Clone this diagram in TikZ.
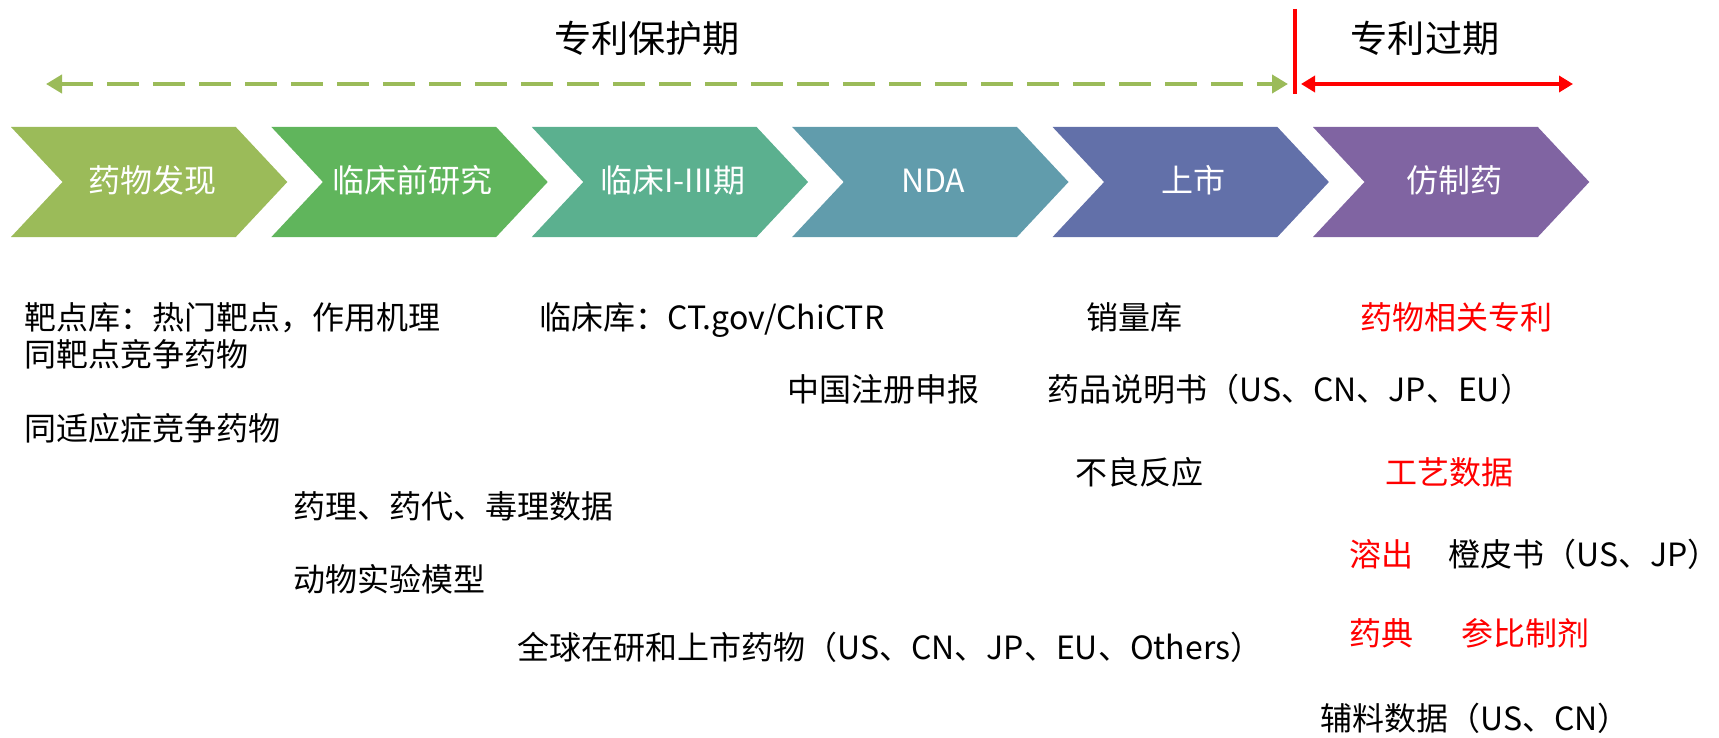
\documentclass[tikz,border=0pt]{standalone}
\usepackage{fontspec}
\setmainfont{Noto Sans CJK SC}
\usetikzlibrary{arrows.meta}
\definecolor{cA}{HTML}{9BBB59}
\definecolor{cB}{HTML}{60B55C}
\definecolor{cC}{HTML}{5BB08F}
\definecolor{cD}{HTML}{619CAC}
\definecolor{cE}{HTML}{6270A9}
\definecolor{cF}{HTML}{8064A2}
\definecolor{myred}{HTML}{FF0000}
\begin{document}
\begin{tikzpicture}[x=0.5pt,y=-0.5pt,
  txt/.style={anchor=west,inner sep=0pt,text height=1.0em,text depth=0em,font=\fontsize{16pt}{18pt}\selectfont},
  redtxt/.style={txt,text=myred},
  lab/.style={inner sep=0pt,text height=1.0em,text depth=0em,text=white,font=\fontsize{16pt}{18pt}\selectfont},
  ttl/.style={inner sep=0pt,text height=1.0em,text depth=0em,font=\fontsize{18.6pt}{20pt}\selectfont},
  greenarrow/.style={draw=cA,line width=2pt,dash pattern=on 16pt off 7pt,{Triangle[length=8pt,width=9pt]}-{Triangle[length=8pt,width=9pt]}},
  redarrow/.style={draw=myred,line width=1.8pt,{Triangle[length=7pt,width=8pt]}-{Triangle[length=7pt,width=8pt]}},
  redline/.style={draw=myred,line width=2pt}]
\useasboundingbox (0,0) rectangle (1719,738);

% chevrons
\foreach \i/\c/\t in {0/cA/药物发现,1/cB/临床前研究,2/cC/临床I-III期,3/cD/NDA,4/cE/上市,5/cF/仿制药}{
  \pgfmathsetmacro\L{11+\i*260.4}
  \fill[\c] (\L,127) -- ++(224.8,0) -- ++(51.5,55) -- ++(-51.5,55) -- ++(-224.8,0) -- ++(51.5,-55) -- cycle;
  \node[lab] (s\i) at (\L+141,182) {\t};
}

% titles
\node[ttl] (title1) at (647,43) {专利保护期};
\node[ttl] (title2) at (1425,43) {专利过期};

% top arrows
\coordinate (gL) at (46,84);
\coordinate (gR) at (1288,84);
\coordinate (rT) at (1295,9);
\coordinate (rB) at (1295,94);
\coordinate (aL) at (1301,84);
\coordinate (aR) at (1573,84);
\draw[greenarrow] (gL) -- (gR);
\draw[redline] (rT) -- (rB);
\draw[redarrow] (aL) -- (aR);

% texts
\node[txt] (t1) at (24,319) {靶点库：热门靶点，作用机理};
\node[txt] (t2) at (24,356) {同靶点竞争药物};
\node[txt] (t3) at (24,430) {同适应症竞争药物};
\node[txt] (t4) at (293,508) {药理、药代、毒理数据};
\node[txt] (t5) at (293,581) {动物实验模型};
\node[txt] (t6) at (517,649) {全球在研和上市药物（US、CN、JP、EU、Others）};
\node[txt] (t7) at (539,319) {临床库：CT.gov/ChiCTR};
\node[txt] (t8) at (787,391) {中国注册申报};
\node[txt] (t9) at (1086,319) {销量库};
\node[txt] (t10) at (1047,391) {药品说明书（US、CN、JP、EU）};
\node[txt] (t11) at (1075,474) {不良反应};
\node[redtxt] (t12) at (1360,319) {药物相关专利};
\node[redtxt] (t13) at (1385,474) {工艺数据};
\node[redtxt] (t14) at (1349,556) {溶出};
\node[txt] (t15) at (1448,556) {橙皮书（US、JP）};
\node[redtxt] (t16) at (1349,635) {药典};
\node[redtxt] (t17) at (1461,635) {参比制剂};
\node[txt] (t18) at (1320,720) {辅料数据（US、CN）};
\end{tikzpicture}
\end{document}
